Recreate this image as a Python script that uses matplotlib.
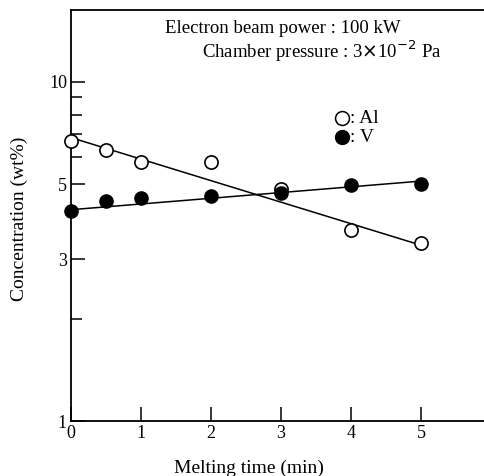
import numpy as np
import matplotlib.pyplot as plt

plt.rcParams['font.family'] = ['Liberation Serif', 'DejaVu Serif']

# Melting time (min)
time_al = [0, 0.5, 1, 2, 3, 4, 5]
time_v = [0, 0.5, 1, 2, 3, 4, 5]

# Concentration (wt%)
conc_al = [6.7, 6.3, 5.8, 5.8, 4.85, 3.65, 3.35]
conc_v = [4.15, 4.45, 4.55, 4.6, 4.7, 4.95, 5.0]

# fitted lines (end points)
fit_time = [0, 5]
fit_al = [6.85, 3.3]
fit_v = [4.2, 5.1]

y_major = [1, 3, 5, 10]
y_minor = [2, 6, 7, 8, 9]
x_ticks = [0, 1, 2, 3, 4, 5]

fig = plt.figure(figsize=(4.84, 4.76), dpi=100)
ax = fig.add_axes([0.147, 0.1155, 0.853, 0.8635])

ax.plot(fit_time, fit_al, color='black', lw=1.1, zorder=1)
ax.plot(fit_time, fit_v, color='black', lw=1.1, zorder=1)
ax.plot(time_al, conc_al, 'o', ms=9.5, mfc='white', mec='black', mew=1.2,
        clip_on=False, zorder=3)
ax.plot(time_v, conc_v, 'o', ms=9.5, mfc='black', mec='black',
        clip_on=False, zorder=3)

ax.set_yscale('log')
ax.set_xlim(0, 5.9)
ax.set_ylim(1, 16.3)

ax.set_yticks(y_major)
ax.set_yticklabels([str(v) for v in y_major])
ax.set_yticks(y_minor, minor=True)
ax.set_yticklabels([], minor=True)
ax.set_xticks(x_ticks)
ax.set_xticklabels([str(v) for v in x_ticks])

ax.tick_params(axis='both', which='major', direction='in', length=10,
               width=1.1, labelsize=13, pad=3)
ax.tick_params(axis='y', which='minor', direction='in', length=8, width=1.1)

ax.spines['right'].set_visible(False)
for s in ['left', 'bottom', 'top']:
    ax.spines[s].set_linewidth(1.3)

ax.set_xlabel('Melting time (min)', fontsize=14, va='center')
ax.xaxis.set_label_coords(0.431, -0.114)
ax.set_ylabel('Concentration (wt%)', fontsize=14, va='center')
ax.yaxis.set_label_coords(-0.126, 0.491)

ax.text(0.513, 0.955, 'Electron beam power : 100 kW', transform=ax.transAxes,
        ha='center', va='center', fontsize=13.5)
ax.text(0.898, 0.899, 'Chamber pressure : 3$\\times$10$^{-2}$ Pa',
        transform=ax.transAxes, ha='right', va='center', fontsize=13.5)

# legend
ax.plot([0.656], [0.737], 'o', ms=10, mfc='white', mec='black', mew=1.1,
        transform=ax.transAxes)
ax.text(0.676, 0.737, ': Al', transform=ax.transAxes, ha='left', va='center',
        fontsize=14)
ax.plot([0.656], [0.691], 'o', ms=10, mfc='black', mec='black',
        transform=ax.transAxes)
ax.text(0.676, 0.691, ': V', transform=ax.transAxes, ha='left', va='center',
        fontsize=14)

fig.savefig('out.png', dpi=100)
